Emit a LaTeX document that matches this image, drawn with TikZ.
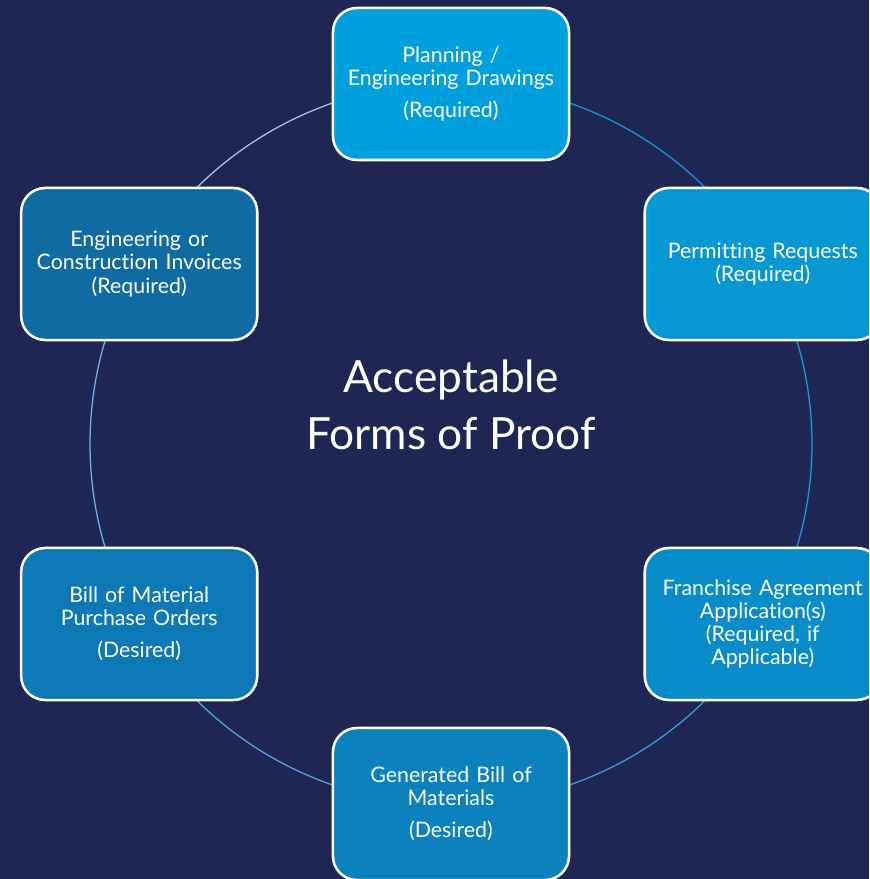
\documentclass[tikz,border=0pt]{standalone}
\usepackage{fontspec}
\setmainfont{Lato}[Ligatures=NoCommon]
\usetikzlibrary{positioning}
\definecolor{navyBg}{RGB}{31,38,84}
\definecolor{boxPlan}{RGB}{0,160,223}
\definecolor{boxPermit}{RGB}{7,152,212}
\definecolor{boxFranchise}{RGB}{9,140,202}
\definecolor{boxGenerated}{RGB}{11,129,190}
\definecolor{boxBill}{RGB}{12,120,181}
\definecolor{boxInvoice}{RGB}{16,107,163}
\definecolor{ringA}{RGB}{169,198,232}
\definecolor{ringB}{RGB}{110,178,232}
\definecolor{ringC}{RGB}{79,167,228}
\definecolor{ringD}{RGB}{46,163,224}
\definecolor{ringE}{RGB}{20,160,224}
\definecolor{ringF}{RGB}{10,156,222}

\begin{document}
\begin{tikzpicture}[x=0.025cm, y=0.025cm,
  proofbox/.style={draw=white, line width=1.8pt, rounded corners=0.6cm,
    minimum width=5.9cm, minimum height=3.8cm, text width=5.6cm,
    align=center, text=white, font=\fontsize{15.2}{16.4}\selectfont},
  prooftitle/.style={text=white, align=center, font=\fontsize{31.5}{40.5}\selectfont}]
\useasboundingbox (-451,-435) rectangle (418,444);
\clip (-451,-435) rectangle (418,444);
\fill[navyBg] (-451,-435) rectangle (418,444);
\coordinate (hub) at (0,0);
% ring behind the boxes
\foreach \a/\col in {90/ringA,150/ringB,210/ringC,270/ringD,330/ringE,30/ringF} {
    \draw[\col, line width=0.9pt] (hub) ++(\a:361) arc[start angle=\a, end angle=\a+60, radius=361];
}
\node[prooftitle] (title) at (0,39) {Acceptable\\Forms of Proof};
\node[proofbox, fill=boxPlan] (planning) at (90:360) {Planning /\\Engineering Drawings\\[6.4pt](Required)};
\node[proofbox, fill=boxPermit] (permitting) at (30:360) {Permitting Requests\\(Required)};
\node[proofbox, fill=boxFranchise] (franchise) at (-30:360) {Franchise Agreement\\Application(s)\\(Required, if\\Applicable)};
\node[proofbox, fill=boxGenerated] (generated) at (-90:360) {Generated Bill of\\Materials\\[6.4pt](Desired)};
\node[proofbox, fill=boxBill] (billorders) at (-150:360) {Bill of Material\\Purchase Orders\\[6.4pt](Desired)};
\node[proofbox, fill=boxInvoice] (invoices) at (150:360) {Engineering or\\Construction Invoices\\(Required)};
\end{tikzpicture}
\end{document}
